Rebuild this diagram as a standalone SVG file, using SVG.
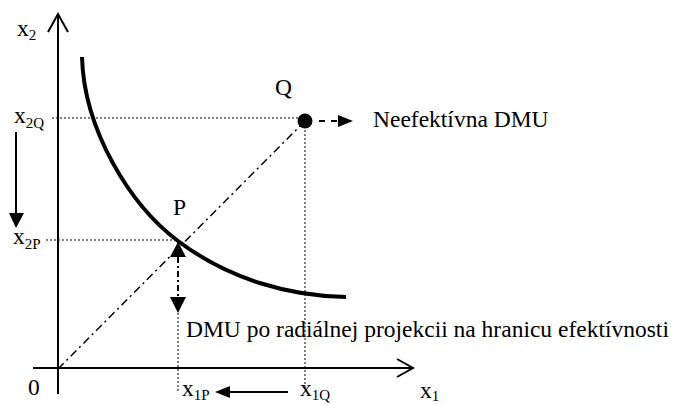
<svg xmlns="http://www.w3.org/2000/svg" width="680" height="405" viewBox="0 0 680 405" font-family="'Liberation Serif', 'Times New Roman', serif">
<style>
text{font-family:'Liberation Serif','Times New Roman',serif;fill:#000;font-size:23.5px}
.sub{font-size:15px}
.ax{stroke:#000;stroke-width:2;fill:none}
.dot{stroke:#000;stroke-width:1;stroke-dasharray:2,2;fill:none}
.dd{stroke:#000;stroke-width:1.5;stroke-dasharray:8,4,2,4;fill:none}
.ah{fill:#000;stroke:none}
</style>
<rect width="680" height="405" fill="#fff"/>
<g id="axes">
<line class="ax" x1="58" y1="394" x2="58" y2="15"/>
<polyline class="ax" points="48,32 58,14 68,32"/>
<line class="ax" x1="33" y1="368" x2="412" y2="368"/>
<polyline class="ax" points="397,359 413,368 397,377"/>
</g>
<g id="curve">
<path d="M82,57 C84,130 130,205 178,241 C230,280 290,296 346,297" stroke="#000" stroke-width="4" fill="none"/>
</g>
<g id="connectors">
<line class="dot" x1="52" y1="118" x2="300" y2="118"/>
<line class="dot" x1="46" y1="240" x2="176" y2="240"/>
<line class="dot" x1="305" y1="126" x2="305" y2="388"/>
<line class="dot" x1="178" y1="313" x2="178" y2="392"/>
<line class="dd" x1="58" y1="369" x2="305" y2="121"/>
<line x1="16" y1="132" x2="16" y2="214" stroke="#000" stroke-width="2"/>
<polygon class="ah" points="9,213 24,213 16,228"/>
<line x1="288" y1="392" x2="229" y2="392" stroke="#000" stroke-width="2"/>
<polygon class="ah" points="230,386 230,398 215,392"/>
<line x1="319" y1="121" x2="338" y2="121" stroke="#000" stroke-width="2" stroke-dasharray="6,6"/>
<polygon class="ah" points="338,115 338,127 353,121"/>
<polygon class="ah" points="178,242 186,257 170,257"/>
<line x1="178" y1="257" x2="178" y2="297" stroke="#000" stroke-width="2" stroke-dasharray="6,3,2,3"/>
<polygon class="ah" points="170,297 186,297 178,313"/>
</g>
<g id="node-Q">
<circle cx="305" cy="121" r="7.5" fill="#000"/>
<text x="275" y="95">Q</text>
</g>
<g id="node-P">
<text x="173" y="215">P</text>
</g>
<g id="labels">
<text x="17" y="36">x<tspan class="sub" dy="4">2</tspan></text>
<text x="14" y="123">x<tspan class="sub" dy="5">2Q</tspan></text>
<text x="13" y="244">x<tspan class="sub" dy="5">2P</tspan></text>
<text x="28" y="395">0</text>
<text x="182" y="396">x<tspan class="sub" dy="4">1P</tspan></text>
<text x="300" y="396">x<tspan class="sub" dy="4">1Q</tspan></text>
<text x="420" y="398">x<tspan class="sub" dy="3">1</tspan></text>
<text x="373" y="127">Neefektívna DMU</text>
<text x="186" y="337">DMU po radiálnej projekcii na hranicu efektívnosti</text>
</g>
</svg>
